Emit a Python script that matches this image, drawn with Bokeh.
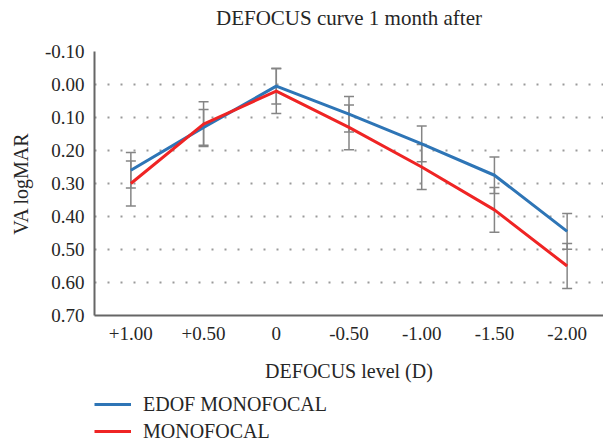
from bokeh.plotting import figure
from bokeh.layouts import column
from bokeh.models import (ColumnDataSource, FactorRange, Range1d, FixedTicker,
                          NumeralTickFormatter, Whisker, TeeHead, Legend, LegendItem,
                          Title)
from bokeh.embed import file_html
from bokeh.resources import INLINE

# ---- data ----
defocus_levels = ["+1.00", "+0.50", "0", "-0.50", "-1.00", "-1.50", "-2.00"]
edof_mean = [0.26, 0.13, 0.005, 0.09, 0.18, 0.275, 0.445]
edof_sd = [0.054, 0.054, 0.054, 0.054, 0.054, 0.055, 0.054]
mono_mean = [0.30, 0.12, 0.02, 0.13, 0.25, 0.38, 0.55]
mono_sd = [0.068, 0.068, 0.068, 0.068, 0.068, 0.068, 0.068]
y_ticks = [-0.10, 0.00, 0.10, 0.20, 0.30, 0.40, 0.50, 0.60, 0.70]
title_text = "DEFOCUS curve 1 month after"
x_label = "DEFOCUS level (D)"
y_label = "VA logMAR"
series_names = ["EDOF MONOFOCAL", "MONOFOCAL"]

FONT = "Liberation Serif"
TXT = "#262626"
BLUE = "#2e75b6"
RED = "#ef2424"
GRAY = "#858585"

edof_src = ColumnDataSource(dict(
    x=defocus_levels, y=edof_mean,
    lo=[m - s for m, s in zip(edof_mean, edof_sd)],
    hi=[m + s for m, s in zip(edof_mean, edof_sd)]))
mono_src = ColumnDataSource(dict(
    x=defocus_levels, y=mono_mean,
    lo=[m - s for m, s in zip(mono_mean, mono_sd)],
    hi=[m + s for m, s in zip(mono_mean, mono_sd)]))

p = figure(width=603, height=388, output_backend="svg", toolbar_location=None,
           title=None,
           x_range=FactorRange(factors=defocus_levels, range_padding=0),
           y_range=Range1d(start=y_ticks[-1], end=y_ticks[0]),
           min_border_left=94, min_border_right=0, min_border_top=51,
           min_border_bottom=73)
p.outline_line_color = None
p.background_fill_color = "white"
p.border_fill_color = "white"

# title (a blank spacer nearest the frame, then the title above it)
spacer = Title(text=" ", text_font=FONT, text_font_size="16px", standoff=0)
p.add_layout(spacer, "above")
main_title = Title(text=title_text, align="center", text_font=FONT,
                   text_font_size="21px", text_font_style="normal",
                   text_color=TXT, standoff=6)
p.add_layout(main_title, "above")

# grid
p.xgrid.grid_line_color = None
p.ygrid.grid_line_color = "#9a9a9a"
p.ygrid.grid_line_width = 2
p.ygrid.grid_line_dash = "2 11"
p.yaxis.ticker = FixedTicker(ticks=y_ticks)
p.yaxis.formatter = NumeralTickFormatter(format="0.00")

for ax in (p.xaxis, p.yaxis):
    ax.major_tick_line_color = None
    ax.minor_tick_line_color = None
    ax.major_tick_out = 0
    ax.major_tick_in = 0
    ax.axis_line_color = "#666666"
    ax.axis_line_width = 2
    ax.major_label_text_font = FONT
    ax.major_label_text_font_size = "19px"
    ax.major_label_text_color = TXT
    ax.axis_label_text_font = FONT
    ax.axis_label_text_font_size = "20px"
    ax.axis_label_text_font_style = "normal"
    ax.axis_label_text_color = TXT

p.xaxis.axis_label = x_label
p.xaxis.major_label_standoff = 11
p.xaxis.axis_label_standoff = 17
p.yaxis.axis_label = y_label
p.yaxis.major_label_standoff = 10
p.yaxis.axis_label_standoff = 10

# error bars
for src in (edof_src, mono_src):
    w = Whisker(base="x", lower="lo", upper="hi", source=src, dimension="height",
                line_color=GRAY, line_width=1.5,
                lower_head=TeeHead(size=10, line_color=GRAY, line_width=1.5),
                upper_head=TeeHead(size=10, line_color=GRAY, line_width=1.5))
    p.add_layout(w)

p.line("x", "y", source=edof_src, line_color=BLUE, line_width=3)
p.line("x", "y", source=mono_src, line_color=RED, line_width=3)

# ---- legend strip below the chart (series drawn out of view, keys only) ----
lg = figure(width=603, height=55, output_backend="svg", toolbar_location=None,
            min_border=0, x_axis_type=None, y_axis_type=None,
            x_range=FactorRange(factors=defocus_levels, range_padding=0),
            y_range=Range1d(start=20, end=21))
lg.outline_line_color = None
lg.grid.grid_line_color = None
lg.border_fill_color = "white"
lg.background_fill_color = "white"
l_edof = lg.line("x", "y", source=edof_src, line_color=BLUE, line_width=3)
l_mono = lg.line("x", "y", source=mono_src, line_color=RED, line_width=3)

legend = Legend(items=[LegendItem(label=series_names[0], renderers=[l_edof]),
                       LegendItem(label=series_names[1], renderers=[l_mono])],
                location=(0, 0), orientation="vertical",
                margin=0, padding=0, spacing=3,
                glyph_width=37, glyph_height=24, label_height=24,
                label_standoff=12,
                label_text_font=FONT, label_text_font_size="20px",
                label_text_color=TXT,
                border_line_color=None, background_fill_alpha=0)
lg.add_layout(legend)

layout = column(p, lg, spacing=0)
open("out.html", "w").write(file_html(layout, INLINE))
